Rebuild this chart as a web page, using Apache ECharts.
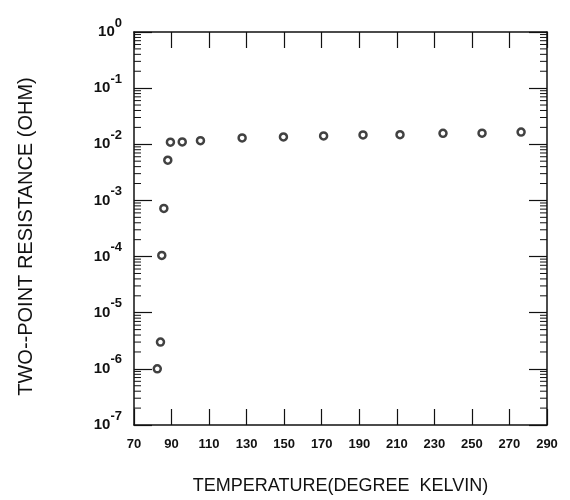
<!DOCTYPE html>
<html>
<head>
<meta charset="utf-8">
<script src="https://cdn.jsdelivr.net/npm/echarts@6/dist/echarts.min.js"></script>
<style>
  html, body { margin: 0; padding: 0; background: #fff; }
  #chart { width: 570px; height: 500px; }
</style>
</head>
<body>
<div id="chart"></div>
<script>
// temperature (K) and two-point resistance (ohm)
var temps = [82.4, 84.1, 84.8, 85.9, 88.0, 89.4, 95.7, 105.4, 127.6, 149.6, 171.0, 192.0, 211.7, 234.6, 255.4, 276.2];
var resistance = [1.0e-6, 3.0e-6, 1.05e-4, 7.2e-4, 5.2e-3, 1.09e-2, 1.10e-2, 1.16e-2, 1.30e-2, 1.35e-2, 1.41e-2, 1.47e-2, 1.48e-2, 1.57e-2, 1.58e-2, 1.65e-2];

var xTicks = [70, 90, 110, 130, 150, 170, 190, 210, 230, 250, 270, 290];
var decades = [-7, -6, -5, -4, -3, -2, -1, 0];
var minorSteps = [2, 3, 4, 5, 6, 7, 8, 9];

var xTitle = 'TEMPERATURE(DEGREE  KELVIN)';
var yTitle = 'TWO--POINT RESISTANCE (OHM)';

var font = "'Liberation Sans', Arial, sans-serif";
var ink = '#111';

// minor log ticks (2..9 within each decade)
var minorVals = [];
decades.slice(0, -1).forEach(function (d) {
    minorSteps.forEach(function (k) { minorVals.push([xTicks[0], k * Math.pow(10, d)]); });
});

var pts = temps.map(function (t, i) { return [t, resistance[i]]; });

var chart = echarts.init(document.getElementById('chart'));

var lineStyle = { color: ink, width: 1.5 };

chart.setOption({
    animation: false,
    backgroundColor: '#fff',
    grid: { left: 134, right: 23, top: 32, bottom: 67 },
    xAxis: [
        {
            type: 'value',
            position: 'bottom',
            min: 70, max: 290, interval: 20,
            name: xTitle,
            nameLocation: 'middle',
            nameGap: 52,
            nameTextStyle: { fontFamily: font, fontSize: 18, color: ink },
            axisLine: { lineStyle: lineStyle },
            axisTick: { inside: true, length: 16, lineStyle: { color: ink, width: 1.2 } },
            axisLabel: { margin: 13, fontFamily: font, fontSize: 13, color: ink, fontWeight: 'bold' },
            splitLine: { show: false }
        },
        {
            type: 'value',
            position: 'top',
            min: 70, max: 290, interval: 20,
            axisLine: { lineStyle: lineStyle },
            axisTick: { inside: true, length: 16, lineStyle: { color: ink, width: 1.2 } },
            axisLabel: { show: false },
            splitLine: { show: false }
        }
    ],
    yAxis: [
        {
            type: 'log',
            logBase: 10,
            position: 'left',
            min: 1e-7, max: 1,
            splitNumber: 7,
            name: yTitle,
            nameLocation: 'middle',
            nameGap: 98,
            nameTextStyle: { fontFamily: font, fontSize: 20, color: ink, padding: [0, 16, 0, 0] },
            axisLine: { lineStyle: lineStyle },
            axisTick: { inside: true, length: 18, lineStyle: { color: ink, width: 1.2 } },
            axisLabel: {
                margin: 12,
                formatter: function (v) {
                    var e = Math.round(Math.log10(v));
                    return '{b|10}{s|' + (e === 0 ? '0' : '-' + (-e)) + '}';
                },
                rich: {
                    b: { fontFamily: font, fontSize: 15, color: ink, fontWeight: 'bold' },
                    s: { fontFamily: font, fontSize: 13, color: ink, fontWeight: 'bold', padding: [0, 0, 18, 0] }
                }
            },
            splitLine: { show: false }
        },
        {
            type: 'log',
            logBase: 10,
            position: 'right',
            min: 1e-7, max: 1,
            splitNumber: 7,
            axisLine: { lineStyle: lineStyle },
            axisTick: { inside: true, length: 18, lineStyle: { color: ink, width: 1.2 } },
            axisLabel: { show: false },
            splitLine: { show: false }
        }
    ],
    series: [
        {
            type: 'custom',
            silent: true,
            clip: false,
            xAxisIndex: 0,
            yAxisIndex: 0,
            data: minorVals,
            renderItem: function (params, api) {
                var l = api.coord([70, api.value(1)]);
                var r = api.coord([290, api.value(1)]);
                var st = { stroke: ink, lineWidth: 1 };
                return {
                    type: 'group',
                    children: [
                        { type: 'line', shape: { x1: l[0], y1: l[1], x2: l[0] + 7, y2: l[1] }, style: st },
                        { type: 'line', shape: { x1: r[0] - 7, y1: r[1], x2: r[0], y2: r[1] }, style: st }
                    ]
                };
            }
        },
        {
            type: 'scatter',
            xAxisIndex: 0,
            yAxisIndex: 0,
            data: pts,
            symbol: 'circle',
            symbolSize: 7,
            itemStyle: { color: '#fff', borderColor: ink, borderWidth: 2.5 }
        }
    ]
});
</script>
</body>
</html>
